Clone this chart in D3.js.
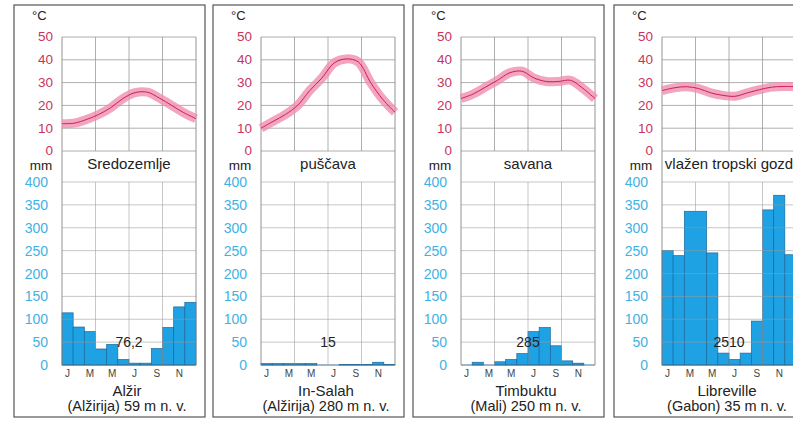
<!DOCTYPE html>
<html>
<head>
<meta charset="utf-8">
<script src="https://cdn.jsdelivr.net/npm/d3@7"></script>
<style>
  body { margin: 0; background: #fff; }
  svg { display: block; font-family: "Liberation Sans", Arial, sans-serif; }
</style>
</head>
<body>
<svg id="chart" width="793" height="421"></svg>
<script>
/* data */
const months = ['J', 'F', 'M', 'A', 'M', 'J', 'J', 'A', 'S', 'O', 'N', 'D'];
const stations = ['Alžir', 'In-Salah', 'Timbuktu', 'Libreville'];
const places = ['(Alžirija) 59 m n. v.', '(Alžirija) 280 m n. v.', '(Mali) 250 m n. v.', '(Gabon) 35 m n. v.'];
const biomes = ['Sredozemlje', 'puščava', 'savana', 'vlažen tropski gozd'];
const annualTotals = ['76,2', '15', '285', '2510'];
const tempTicks = [0, 10, 20, 30, 40, 50];
const precipTicks = [0, 50, 100, 150, 200, 250, 300, 350, 400];

const tempAlzir = [12, 12.2, 13.8, 16, 19, 23, 25.6, 25.8, 23.2, 20, 16.8, 14.2];
const tempInSalah = [10, 13, 16, 20, 26.5, 32, 38.6, 40.4, 39, 30, 22.6, 17];
const tempTimbuktu = [23, 25, 28, 31, 34.3, 35, 32, 30.5, 30.5, 31, 27.5, 23];
const tempLibreville = [26.5, 27.7, 28.2, 27.4, 25.5, 24.4, 24, 25.5, 26.9, 28, 28.3, 28.2];

const precipAlzir = [114, 83, 73, 35, 45, 12, 4, 4, 36, 82, 127, 137];
const precipInSalah = [3, 3, 3, 3, 3, 0, 0, 1, 1, 1, 6, 1];
const precipTimbuktu = [0, 6, 0, 7, 12, 25, 73, 82, 42, 9, 4, 0];
const precipLibreville = [250, 239, 336, 336, 245, 26, 12, 26, 96, 339, 371, 241];

const temps = [tempAlzir, tempInSalah, tempTimbuktu, tempLibreville];
const precips = [precipAlzir, precipInSalah, precipTimbuktu, precipLibreville];

/* layout */
const svg = d3.select('#chart');
const panelLefts = [14, 213, 413, 614];
const panelWidth = 191;
const panelTop = 5;
const panelBottom = 417;
const plotOffset = 48;
const plotWidth = 134;
const tempTop = 37;
const tempBottom = 151;
const precipTop = 182;
const precipBottom = 365;

const gridColor = '#9a9a9a';
const tempColor = '#c8345e';
const precipLabelColor = '#3fb2e3';

panelLefts.forEach((x0, p) => {
  const g = svg.append('g');
  const left = x0 + plotOffset;
  const right = left + plotWidth;
  const center = left + plotWidth / 2;

  const xBand = d3.scaleBand().domain(d3.range(12)).range([left, right]).padding(0);
  const xPoint = d3.scalePoint().domain(d3.range(12)).range([left, right]);
  const yTemp = d3.scaleLinear().domain([0, 50]).range([tempBottom, tempTop]);
  const yPrecip = d3.scaleLinear().domain([0, 400]).range([precipBottom, precipTop]);

  /* panel border */
  g.append('rect')
    .attr('x', x0)
    .attr('y', panelTop)
    .attr('width', panelWidth)
    .attr('height', panelBottom - panelTop)
    .attr('fill', '#fff')
    .attr('stroke', '#555')
    .attr('stroke-width', 1.2);

  /* bars */
  g.selectAll('rect.bar')
    .data(precips[p])
    .enter()
    .append('rect')
    .attr('class', 'bar')
    .attr('x', (d, i) => xBand(i))
    .attr('y', d => yPrecip(d))
    .attr('width', xBand.bandwidth())
    .attr('height', d => yPrecip(0) - yPrecip(d))
    .attr('fill', '#1ea2e4')
    .attr('stroke', d => (d > 0 ? '#1a6a9c' : 'none'))
    .attr('stroke-width', 0.7);

  /* grid: temperature */
  tempTicks.forEach(t => {
    g.append('line')
      .attr('x1', left).attr('x2', right)
      .attr('y1', yTemp(t)).attr('y2', yTemp(t))
      .attr('stroke', gridColor)
      .attr('stroke-width', 0.8);
  });
  /* grid: precipitation */
  precipTicks.forEach(t => {
    g.append('line')
      .attr('x1', left).attr('x2', right)
      .attr('y1', yPrecip(t)).attr('y2', yPrecip(t))
      .attr('stroke', t === 0 ? '#3d6f93' : gridColor)
      .attr('stroke-opacity', t === 0 ? 1 : 0.7)
      .attr('stroke-width', t === 0 ? 1.2 : 0.8);
  });
  /* vertical grid every 3 months */
  [3, 6, 9].forEach(m => {
    const gx = xBand(m);
    g.append('line')
      .attr('x1', gx).attr('x2', gx)
      .attr('y1', tempTop).attr('y2', tempBottom)
      .attr('stroke', gridColor).attr('stroke-width', 0.8);
    g.append('line')
      .attr('x1', gx).attr('x2', gx)
      .attr('y1', precipTop).attr('y2', precipBottom)
      .attr('stroke', gridColor).attr('stroke-opacity', 0.7).attr('stroke-width', 0.8);
  });
  /* frame sides */
  [left, right].forEach(fx => {
    g.append('line')
      .attr('x1', fx).attr('x2', fx)
      .attr('y1', tempTop).attr('y2', precipBottom)
      .attr('stroke', '#888').attr('stroke-width', 0.9);
  });

  /* temperature curve */
  const line = d3.line()
    .x((d, i) => xPoint(i))
    .y(d => yTemp(d))
    .curve(d3.curveCatmullRom.alpha(0.5));

  g.append('path')
    .attr('d', line(temps[p]))
    .attr('fill', 'none')
    .attr('stroke', '#f08db0')
    .attr('stroke-opacity', 0.8)
    .attr('stroke-width', 9)
    .attr('stroke-linecap', 'butt');

  g.append('path')
    .attr('d', line(temps[p]))
    .attr('fill', 'none')
    .attr('stroke', '#c4123f')
    .attr('stroke-width', 0.9);

  /* labels */
  g.append('text')
    .attr('x', x0 + 18)
    .attr('y', 20)
    .attr('font-size', 13)
    .attr('fill', '#222')
    .text('°C');

  tempTicks.forEach(t => {
    g.append('text')
      .attr('x', left - 9)
      .attr('y', yTemp(t))
      .attr('dy', '0.33em')
      .attr('text-anchor', 'end')
      .attr('font-size', 13.5)
      .attr('fill', tempColor)
      .text(t);
  });

  g.append('text')
    .attr('x', x0 + 27)
    .attr('y', 170)
    .attr('text-anchor', 'middle')
    .attr('font-size', 13.5)
    .attr('fill', '#222')
    .text('mm');

  const biome = g.append('text')
    .attr('x', center)
    .attr('y', 169)
    .attr('text-anchor', 'middle')
    .attr('font-size', 15)
    .attr('fill', '#222')
    .text(biomes[p]);
  if (biome.node().getComputedTextLength() > plotWidth) {
    biome.attr('x', left + 3).attr('text-anchor', 'start');
  }

  precipTicks.forEach(t => {
    g.append('text')
      .attr('x', left - 14)
      .attr('y', yPrecip(t))
      .attr('dy', '0.36em')
      .attr('text-anchor', 'end')
      .attr('font-size', 14)
      .attr('fill', precipLabelColor)
      .text(t);
  });

  g.selectAll('text.month')
    .data(months)
    .enter()
    .filter((d, i) => i % 2 === 0)
    .append('text')
    .attr('class', 'month')
    .attr('x', (d, i) => xBand(i * 2) + xBand.bandwidth() / 2)
    .attr('y', 377)
    .attr('text-anchor', 'middle')
    .attr('font-size', 10)
    .attr('fill', '#444')
    .text(d => d);

  g.append('text')
    .attr('x', center)
    .attr('y', 347)
    .attr('text-anchor', 'middle')
    .attr('font-size', 14)
    .attr('fill', '#222')
    .text(annualTotals[p]);

  g.append('text')
    .attr('x', center - 2)
    .attr('y', 396)
    .attr('text-anchor', 'middle')
    .attr('font-size', 15)
    .attr('fill', '#222')
    .text(stations[p]);

  g.append('text')
    .attr('x', center - 2)
    .attr('y', 411)
    .attr('text-anchor', 'middle')
    .attr('font-size', 14.5)
    .attr('fill', '#222')
    .text(places[p]);
});
</script>
</body>
</html>
